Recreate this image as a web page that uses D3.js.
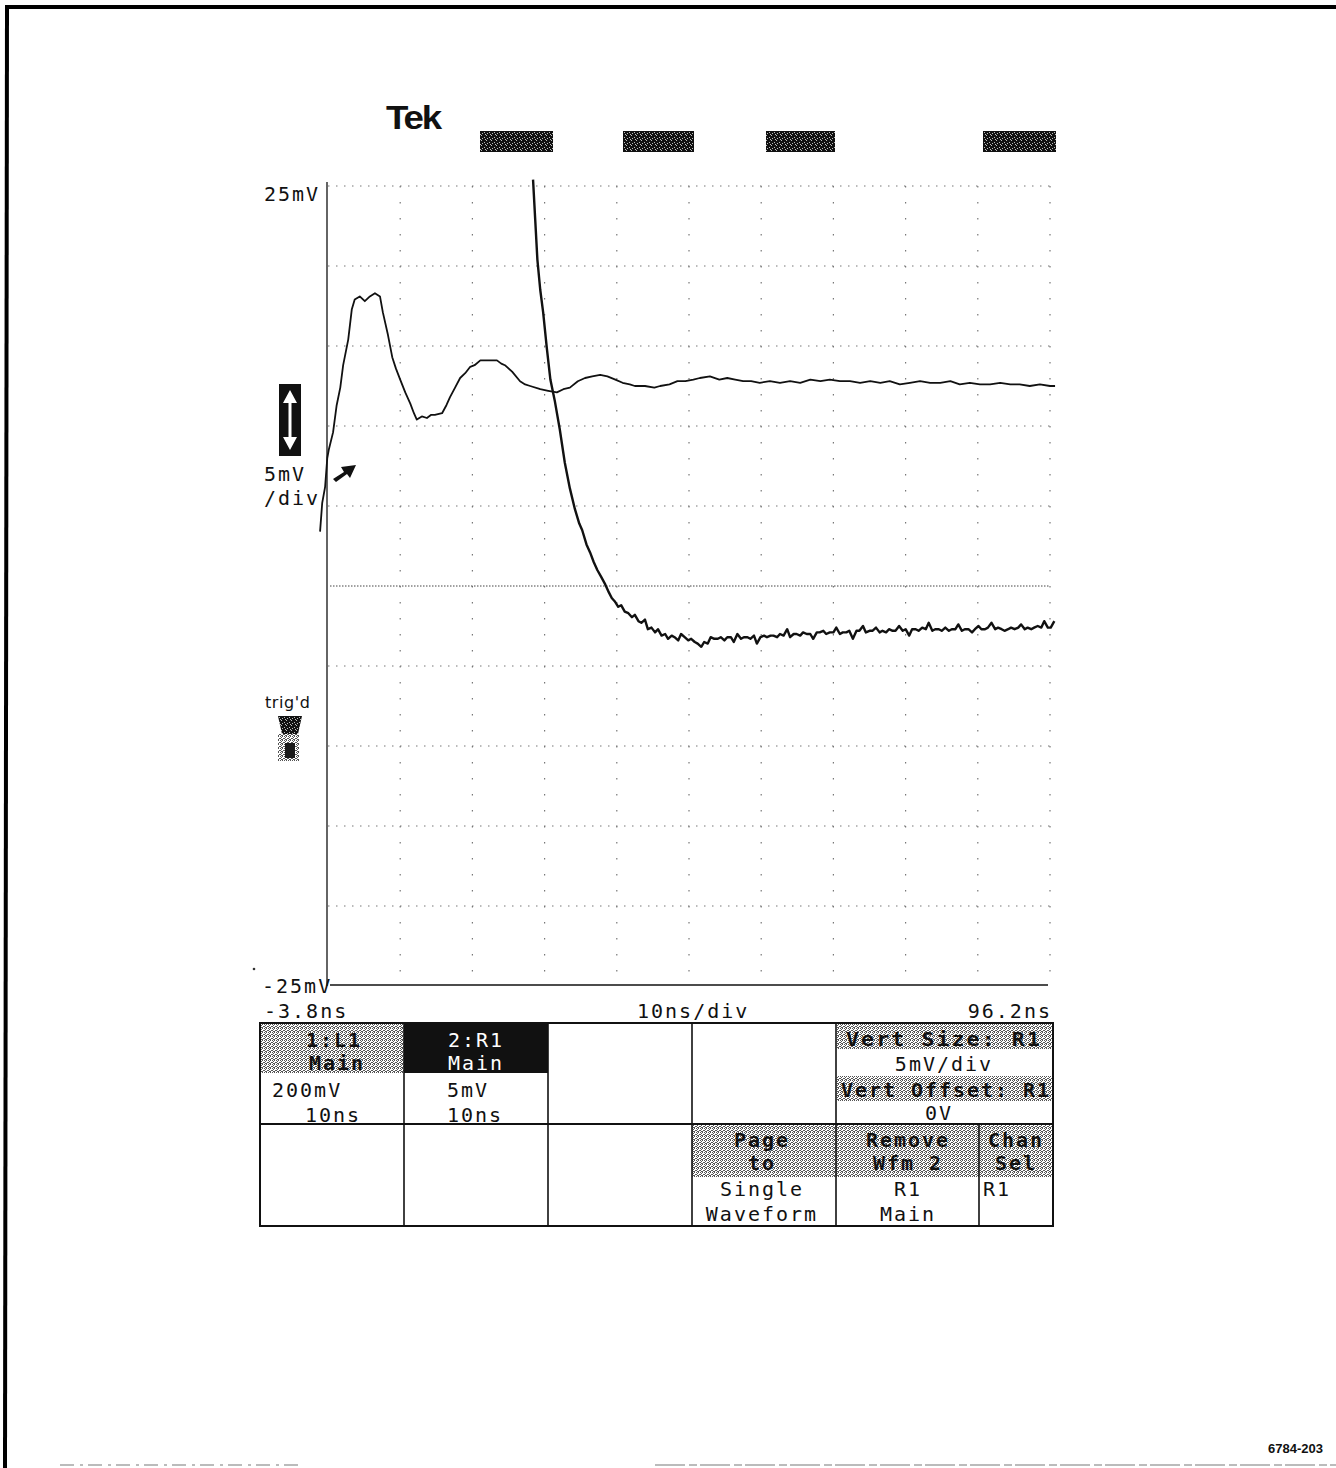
<!DOCTYPE html>
<html>
<head>
<meta charset="utf-8">
<script src="https://cdn.jsdelivr.net/npm/d3@7"></script>
<style>
  body { margin: 0; background: #fff; }
  svg { display: block; }
  .scope { font-family: "DejaVu Sans Mono", monospace; font-size: 20px; letter-spacing: 2px; }
</style>
</head>
<body>
<div id="chart"></div>
<script>
const width = 1336;
const height = 1468;

// screen limits
const timeRange = [-3.8, 96.2];   // ns
const voltRange = [-25, 25];      // mV
const timeGrid = [6.2, 16.2, 26.2, 36.2, 46.2, 56.2, 66.2, 76.2, 86.2, 96.2];
const voltGrid = [25, 20, 15, 10, 5, -5, -10, -15, -20];

// R1 trace (5mV/div)
const r1Time = [-4.9, -4.6, -4.2, -3.9, -3.7, -3.1, -2.6, -2.1, -1.7, -1.0, -0.5, -0.1, 0.6, 1.3, 2.0, 2.7, 3.4, 3.8,
  4.5, 5.1, 5.6, 6.2, 6.9, 7.6, 8.1, 8.5, 9.2, 9.9, 10.5, 11.0, 12.0, 12.6, 13.1, 13.8, 14.5, 15.2, 15.9, 16.5,
  17.3, 18.0, 18.6, 19.6, 20.2, 20.7, 21.7, 22.8, 23.5, 24.2, 25.6, 26.7, 27.9, 28.8, 29.7, 30.8, 31.8, 32.8,
  33.9, 34.9, 36.0, 37.0, 38.0, 38.7, 40.1, 41.4, 42.2, 43.5, 44.6, 45.7, 46.8, 47.7, 49.1, 50.4, 51.5, 52.6,
  53.7, 54.8, 56.0, 57.4, 58.8, 60.2, 61.6, 63.0, 64.4, 65.7, 67.1, 68.5, 69.9, 71.3, 72.7, 74.0, 75.4, 76.8,
  78.2, 79.6, 81.0, 82.4, 83.7, 85.1, 86.5, 87.9, 89.3, 90.7, 92.0, 93.4, 94.8, 96.2, 96.9];
const r1Volt = [3.4, 5.2, 6.2, 8.0, 8.5, 9.6, 11.3, 12.4, 13.8, 15.4, 17.3, 17.9, 18.1, 17.8, 18.1, 18.3, 18.1, 17.1,
  15.7, 14.3, 13.6, 12.9, 12.1, 11.4, 10.8, 10.4, 10.6, 10.5, 10.7, 10.7, 10.8, 11.3, 11.8, 12.4, 13.0, 13.3, 13.7, 13.8,
  14.1, 14.1, 14.1, 14.1, 13.9, 13.8, 13.4, 12.8, 12.6, 12.5, 12.3, 12.2, 12.1, 12.3, 12.4, 12.8, 13.0, 13.1,
  13.2, 13.1, 12.9, 12.7, 12.6, 12.5, 12.5, 12.4, 12.5, 12.6, 12.8, 12.8, 12.9, 13.0, 13.1, 12.9, 13.0, 12.9,
  12.8, 12.8, 12.7, 12.8, 12.7, 12.8, 12.7, 12.9, 12.8, 12.9, 12.8, 12.8, 12.7, 12.8, 12.7, 12.8, 12.6, 12.7,
  12.8, 12.7, 12.7, 12.8, 12.6, 12.7, 12.6, 12.6, 12.7, 12.6, 12.6, 12.5, 12.6, 12.5, 12.5];

// L1 trace (shown at the same 5mV/div)
const l1Time = [24.6, 24.9, 25.2, 25.6, 26.0, 26.5, 27.0, 27.6, 28.3, 29.0, 29.7, 30.4, 31.0, 31.4, 32.0, 32.5,
  33.0, 33.5, 34.0, 34.6, 35.1, 35.5, 35.9, 36.4, 36.8, 37.3, 37.8, 38.3, 38.7, 39.2, 39.6, 40.1, 40.5, 41.0,
  41.5, 41.9, 42.4, 42.9, 43.3, 43.8, 44.2, 44.7, 45.1, 45.6, 46.1, 46.5, 47.0, 47.4, 47.9, 48.3, 48.8, 49.2,
  49.7, 50.2, 50.6, 51.1, 51.5, 52.0, 52.4, 52.9, 53.4, 53.8, 54.3, 54.7, 55.2, 55.6, 56.1, 56.6, 57.0, 57.5,
  57.9, 58.4, 58.8, 59.3, 59.8, 60.2, 60.7, 61.1, 61.6, 62.0, 62.5, 63.0, 63.4, 63.9, 64.3, 64.8, 65.2, 65.7,
  66.2, 66.6, 67.1, 67.5, 68.0, 68.4, 68.9, 69.4, 69.8, 70.3, 70.7, 71.2, 71.6, 72.1, 72.6, 73.0, 73.5, 73.9,
  74.4, 74.8, 75.3, 75.8, 76.2, 76.7, 77.1, 77.6, 78.0, 78.5, 79.0, 79.4, 79.9, 80.3, 80.8, 81.2, 81.7, 82.2,
  82.6, 83.1, 83.5, 84.0, 84.4, 84.9, 85.4, 85.8, 86.3, 86.7, 87.2, 87.6, 88.1, 88.6, 89.0, 89.5, 89.9, 90.4,
  90.8, 91.3, 91.8, 92.2, 92.7, 93.1, 93.6, 94.0, 94.5, 95.0, 95.4, 95.9, 96.3, 96.8];
const l1Volt = [25.4, 22.9, 20.4, 18.5, 17.1, 14.9, 12.9, 11.6, 9.8, 7.7, 6.1, 4.8, 3.9, 3.5, 2.6, 2.1,
  1.5, 1.0, 0.6, 0.1, -0.4, -0.75, -0.95, -1.3, -1.2, -1.6, -1.7, -1.95, -1.8, -2.2, -2.3, -2.1, -2.7, -2.6,
  -2.9, -2.7, -3.1, -3.0, -3.3, -3.1, -3.2, -3.4, -3.0, -3.2, -3.4, -3.3, -3.5, -3.6, -3.8, -3.5, -3.6, -3.2,
  -3.3, -3.3, -3.2, -3.4, -3.2, -3.2, -3.5, -3.0, -3.3, -3.2, -3.2, -3.3, -3.1, -3.6, -3.2, -3.1, -3.2, -3.1,
  -3.1, -3.2, -3.0, -3.1, -2.7, -3.2, -3.0, -3.0, -3.1, -2.9, -3.0, -3.0, -3.3, -2.9, -2.9, -2.8, -3.0, -2.9,
  -2.9, -2.6, -3.0, -2.9, -2.9, -2.8, -3.3, -2.8, -2.8, -2.5, -2.9, -2.8, -2.8, -2.6, -2.9, -2.8, -2.9, -2.7,
  -2.8, -2.8, -2.5, -2.8, -2.7, -3.1, -2.7, -2.7, -2.8, -2.6, -2.7, -2.3, -2.8, -2.7, -2.7, -2.8, -2.6, -2.8,
  -2.7, -2.7, -2.4, -2.8, -2.7, -2.7, -2.9, -2.7, -2.5, -2.7, -2.7, -2.6, -2.3, -2.7, -2.6, -2.7, -2.8, -2.7,
  -2.6, -2.7, -2.6, -2.4, -2.7, -2.6, -2.7, -2.6, -2.5, -2.6, -2.2, -2.6, -2.6, -2.2];

// screen texts
const yAxisLabels = ["25mV", "-25mV"];
const xAxisLabels = ["-3.8ns", "10ns/div", "96.2ns"];
const scaleLabel = ["5mV", "/div"];
const channelNames = ["1:L1", "2:R1"];
const channelScales = [["200mV", "10ns"], ["5mV", "10ns"]];
const vertLabels = ["Vert Size: R1", "5mV/div", "Vert Offset: R1", "0V"];
const menuLabels = [["Page", "to", "Single", "Waveform"], ["Remove", "Wfm 2", "R1", "Main"], ["Chan", "Sel", "R1", ""]];

const svg = d3.select("#chart")
    .append("svg")
    .attr("width", width)
    .attr("height", height);

// Dither patterns (the hardcopy greys)
const defs = svg.append("defs");
const dith = defs.append("pattern").attr("id", "dither")
    .attr("width", 4).attr("height", 4).attr("patternUnits", "userSpaceOnUse");
dith.append("rect").attr("width", 4).attr("height", 4).attr("fill", "#fff");
[[0, 0], [2, 0], [1, 1], [3, 2], [0, 2], [2, 3], [1, 3]].forEach(p =>
    dith.append("rect").attr("x", p[0]).attr("y", p[1]).attr("width", 1).attr("height", 1).attr("fill", "#555"));
const dark = defs.append("pattern").attr("id", "darkDither")
    .attr("width", 5).attr("height", 5).attr("patternUnits", "userSpaceOnUse");
dark.append("rect").attr("width", 5).attr("height", 5).attr("fill", "#111");
[[1, 0], [4, 2], [2, 3], [0, 4]].forEach(p =>
    dark.append("rect").attr("x", p[0]).attr("y", p[1]).attr("width", 1).attr("height", 1).attr("fill", "#bbb"));

// Page border
svg.append("line").attr("x1", 6).attr("y1", 7).attr("x2", width).attr("y2", 7)
    .attr("stroke", "#000").attr("stroke-width", 4);
svg.append("line").attr("x1", 7).attr("y1", 5).attr("x2", 5).attr("y2", height)
    .attr("stroke", "#000").attr("stroke-width", 4);
svg.append("line").attr("x1", 60).attr("y1", 1465).attr("x2", 300).attr("y2", 1465)
    .attr("stroke", "#bbb").attr("stroke-width", 2).attr("stroke-dasharray", "14 6 3 5");
svg.append("line").attr("x1", 655).attr("y1", 1465).attr("x2", width).attr("y2", 1465)
    .attr("stroke", "#bbb").attr("stroke-width", 2).attr("stroke-dasharray", "30 4 8 3");

// Scales
const x = d3.scaleLinear().domain(timeRange).range([328, 1050]);
const y = d3.scaleLinear().domain(voltRange).range([986, 186]);

// ----- Graticule -----
const grid = svg.append("g").attr("stroke", "#777").attr("stroke-width", 1.2);
grid.selectAll("line.v").data(timeGrid).enter().append("line")
    .attr("x1", d => x(d)).attr("x2", d => x(d))
    .attr("y1", y(25)).attr("y2", y(-25))
    .attr("stroke-dasharray", "1.5 14.5");
grid.selectAll("line.h").data(voltGrid).enter().append("line")
    .attr("x1", x(-3.8)).attr("x2", x(96.2))
    .attr("y1", d => y(d)).attr("y2", d => y(d))
    .attr("stroke-dasharray", "1.5 6.5");
// 0V line
svg.append("line")
    .attr("x1", x(-3.8) + 2).attr("x2", x(96.2))
    .attr("y1", y(0)).attr("y2", y(0))
    .attr("stroke", "#444").attr("stroke-width", 1).attr("stroke-dasharray", "1.5 1.5");

// Left and bottom edges
svg.append("line").attr("x1", x(-3.8) - 1).attr("x2", x(-3.8) - 1)
    .attr("y1", y(25) - 4).attr("y2", y(-25))
    .attr("stroke", "#111").attr("stroke-width", 1.3);
svg.append("line").attr("x1", 330).attr("x2", x(96.2) - 2)
    .attr("y1", y(-25) - 1).attr("y2", y(-25) - 1)
    .attr("stroke", "#111").attr("stroke-width", 1.3);

// ----- Traces -----
const line = d3.line().x(d => x(d[0])).y(d => y(d[1]));
svg.append("path")
    .datum(r1Time.map((t, i) => [t, r1Volt[i]]))
    .attr("d", line)
    .attr("fill", "none").attr("stroke", "#111").attr("stroke-width", 1.8)
    .attr("stroke-linejoin", "round");
svg.append("path")
    .datum(l1Time.map((t, i) => [t, l1Volt[i]]))
    .attr("d", line)
    .attr("fill", "none").attr("stroke", "#111").attr("stroke-width", 2.4)
    .attr("stroke-linejoin", "round");

// text helper
function label(str, px, py, opts = {}) {
    const t = svg.append("text")
        .attr("class", opts.cls || "scope")
        .attr("x", px).attr("y", py)
        .attr("text-anchor", opts.anchor || "start")
        .attr("fill", opts.fill || "#111")
        .text(str);
    if (opts.weight) t.attr("font-weight", opts.weight);
    if (opts.len) t.attr("textLength", opts.len).attr("lengthAdjust", "spacingAndGlyphs");
    return t;
}

// ----- Header -----
label("Tek", 386, 129, { cls: "tek", len: 54 })
    .attr("font-family", "Liberation Sans, Arial, sans-serif")
    .attr("font-size", 34).attr("font-weight", "bold").attr("letter-spacing", "-2px");
[[480, 553], [623, 694], [766, 835], [983, 1056]].forEach(b =>
    svg.append("rect").attr("x", b[0]).attr("y", 131).attr("width", b[1] - b[0]).attr("height", 21)
        .attr("fill", "url(#darkDither)"));

// ----- Left side readouts -----
label(yAxisLabels[0], 264, 201);
label(scaleLabel[0], 264, 481);
label(scaleLabel[1], 264, 505);
label(yAxisLabels[1], 262, 993);
svg.append("circle").attr("cx", 254).attr("cy", 969).attr("r", 1.3).attr("fill", "#333");

// vertical position arrow box
svg.append("rect").attr("x", 279).attr("y", 384).attr("width", 22).attr("height", 72).attr("fill", "#111");
svg.append("path")
    .attr("d", "M290,390 L283,403 L288.5,403 L288.5,437 L283,437 L290,450 L297,437 L291.5,437 L291.5,403 L297,403 Z")
    .attr("fill", "#fff");

// channel ground marker
svg.append("path")
    .attr("d", "M333,479 L344,472 L341,467 L356,465 L350,478 L347,474 L336,482 Z")
    .attr("fill", "#111");

// trig'd indicator
label("trig'd", 265, 708, { cls: "trig" })
    .attr("font-family", "DejaVu Sans, sans-serif").attr("font-size", 16).attr("letter-spacing", "0.6px");
svg.append("path").attr("d", "M278,716 L302,716 L298,734 L282,734 Z").attr("fill", "url(#darkDither)");
svg.append("rect").attr("x", 278).attr("y", 734).attr("width", 21).attr("height", 27).attr("fill", "url(#dither)");
svg.append("rect").attr("x", 285).attr("y", 743).attr("width", 10).attr("height", 15).attr("fill", "#1a1a1a");

// ----- Time readouts -----
label(xAxisLabels[0], 264, 1018);
label(xAxisLabels[1], 637, 1018);
label(xAxisLabels[2], 1052, 1018, { anchor: "end" });

// ----- Menu table -----
const tbl = svg.append("g");
// shaded / inverted cells
tbl.append("rect").attr("x", 261).attr("y", 1024).attr("width", 143).attr("height", 49).attr("fill", "url(#dither)");
tbl.append("rect").attr("x", 404).attr("y", 1023).attr("width", 144).attr("height", 50).attr("fill", "#111");
tbl.append("rect").attr("x", 837).attr("y", 1024).attr("width", 216).attr("height", 25).attr("fill", "url(#dither)");
tbl.append("rect").attr("x", 837).attr("y", 1076).attr("width", 216).attr("height", 25).attr("fill", "url(#dither)");
[[692, 836], [836, 980], [980, 1053]].forEach(c =>
    tbl.append("rect").attr("x", c[0]).attr("y", 1125).attr("width", c[1] - c[0]).attr("height", 52)
        .attr("fill", "url(#dither)"));

// grid of the table
tbl.append("rect").attr("x", 260).attr("y", 1023).attr("width", 793).attr("height", 203)
    .attr("fill", "none").attr("stroke", "#111").attr("stroke-width", 2);
tbl.append("line").attr("x1", 260).attr("x2", 1053).attr("y1", 1124).attr("y2", 1124)
    .attr("stroke", "#111").attr("stroke-width", 2);
[404, 548, 692, 836].forEach(cx =>
    tbl.append("line").attr("x1", cx).attr("x2", cx).attr("y1", 1023).attr("y2", 1226)
        .attr("stroke", "#111").attr("stroke-width", 1.6));
tbl.append("line").attr("x1", 979).attr("x2", 979).attr("y1", 1124).attr("y2", 1226)
    .attr("stroke", "#111").attr("stroke-width", 1.6);

// channel cells
label(channelNames[0], 334, 1047, { anchor: "middle", weight: "bold" });
label("Main", 337, 1070, { anchor: "middle", weight: "bold" });
label(channelScales[0][0], 272, 1097);
label(channelScales[0][1], 305, 1122);
label(channelNames[1], 476, 1047, { anchor: "middle", fill: "#fff" });
label("Main", 476, 1070, { anchor: "middle", fill: "#fff" });
label(channelScales[1][0], 447, 1097);
label(channelScales[1][1], 447, 1122);

// vertical settings
label(vertLabels[0], 944, 1046, { anchor: "middle", weight: "bold", len: 196 });
label(vertLabels[1], 944, 1071, { anchor: "middle" });
label(vertLabels[2], 946, 1097, { anchor: "middle", weight: "bold", len: 210 });
label(vertLabels[3], 939, 1120, { anchor: "middle" });

// bottom menu
const menuCenters = [762, 908, 1016];
menuLabels.forEach((m, i) => {
    label(m[0], menuCenters[i], 1147, { anchor: "middle", weight: "bold" });
    label(m[1], menuCenters[i], 1170, { anchor: "middle", weight: "bold" });
    if (i < 2) {
        label(m[2], menuCenters[i], 1196, { anchor: "middle" });
        label(m[3], menuCenters[i], 1221, { anchor: "middle" });
    } else {
        label(m[2], 983, 1196);
    }
});

// figure number
label("6784-203", 1268, 1453, { cls: "fig" })
    .attr("font-family", "Liberation Sans, Arial, sans-serif")
    .attr("font-size", 13).attr("font-weight", "bold");
</script>
</body>
</html>
